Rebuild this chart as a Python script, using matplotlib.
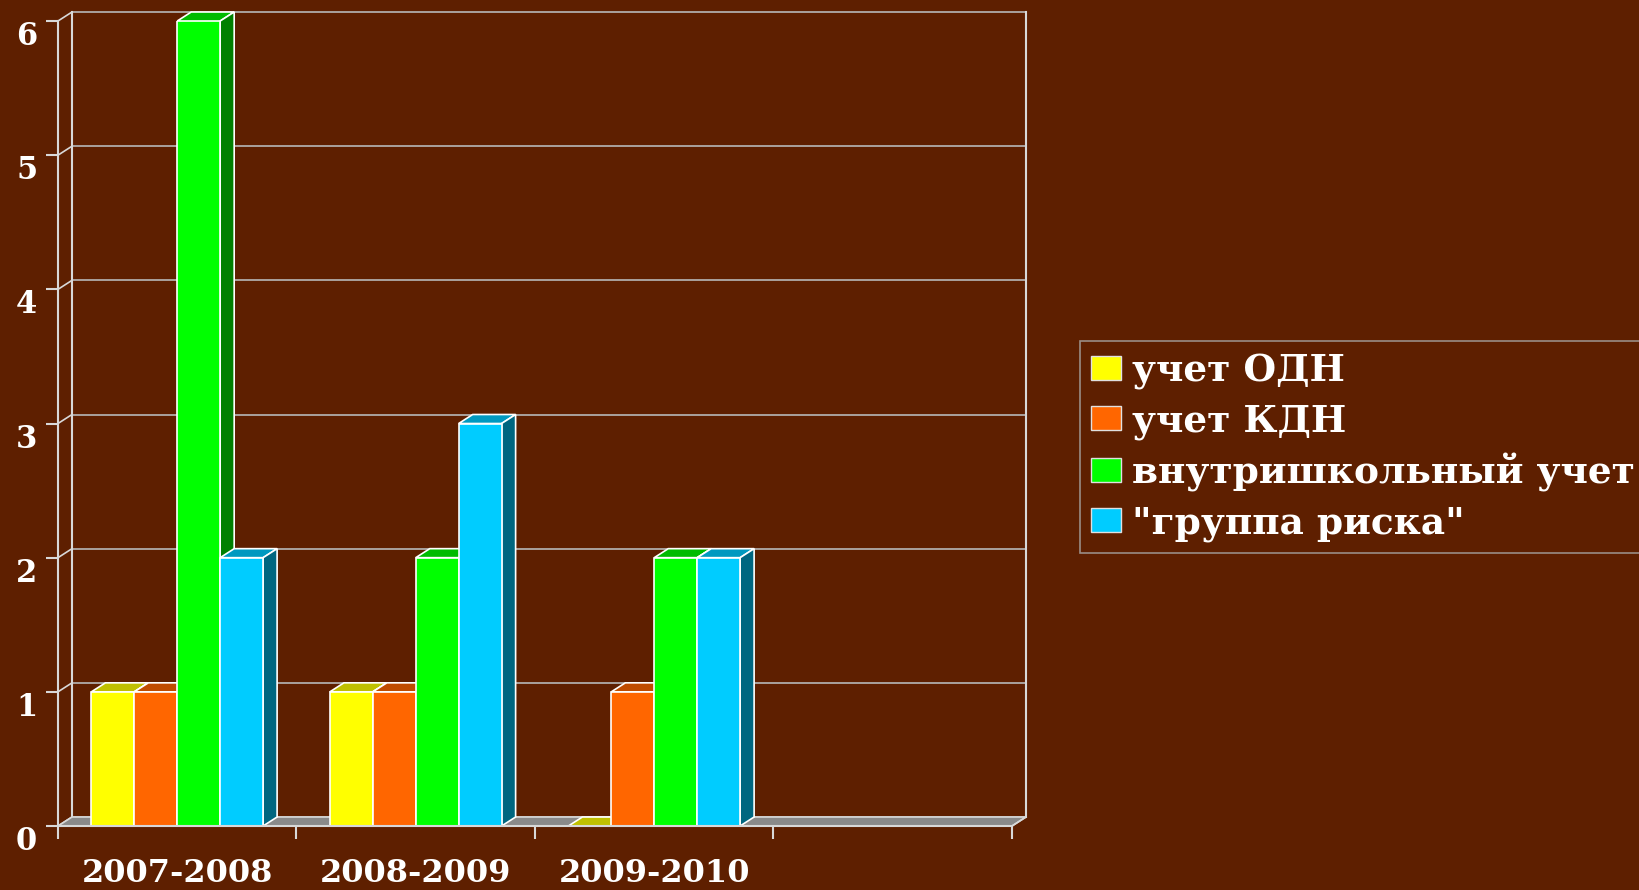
import numpy as np
import matplotlib
matplotlib.use('Agg')
import matplotlib.pyplot as plt
from matplotlib.patches import Polygon, Patch

# data
years = ['2007-2008', '2008-2009', '2009-2010', '']
names = ['учет ОДН', 'учет КДН', 'внутришкольный учет', '"группа риска"']
odn = [1, 1, 0]
kdn = [1, 1, 1]
school = [6, 2, 2]
risk = [2, 3, 2]
series = [odn, kdn, school, risk]
yticks = [0, 1, 2, 3, 4, 5, 6]

front_colors = ['#ffff00', '#ff6600', '#00ff00', '#00ccff']
top_colors = ['#c0c000', '#c04c00', '#00bb00', '#0099c0']
side_colors = ['#808000', '#803300', '#008000', '#006680']
bg = '#5e1f00'
fnt = 'DejaVu Serif'

fig = plt.figure(figsize=(16.4, 8.9), dpi=100, facecolor=bg)
W, H = 1640, 890
ax = fig.add_axes([58 / W, (H - 826) / H, 954 / W, 805 / H])
ax.set_facecolor('none')
ax.set_xlim(0, 4)
ax.set_ylim(0, 6)

# depth of the fake 3d, pixels -> data
p0 = ax.transData.transform((0, 0))
p1 = ax.transData.transform((1, 1))
dx = 14 / (p1[0] - p0[0])
dy = 9 / (p1[1] - p0[1])

linec = '#d8d8d8'
gridc = '#b8b8b8'
n_cat = len(years)

# floor
ax.add_patch(Polygon([(0, 0), (n_cat, 0), (n_cat + dx, dy), (dx, dy)], closed=True,
                     facecolor='#8a8a8a', edgecolor=linec, lw=1.2, zorder=1, clip_on=False))
# back wall grid and left wall connectors
for v in yticks:
    ax.plot([dx, n_cat + dx], [v + dy, v + dy], color=gridc, lw=1.2, zorder=0.5, clip_on=False)
    ax.plot([0, dx], [v, v + dy], color=linec, lw=1.2, zorder=0.5, clip_on=False)
ax.plot([dx, dx], [dy, 6 + dy], color=linec, lw=1.5, zorder=0.6, clip_on=False)
ax.plot([n_cat + dx, n_cat + dx], [dy, 6 + dy], color=linec, lw=1.5, zorder=0.6, clip_on=False)
ax.plot([n_cat, n_cat + dx], [0, dy], color=linec, lw=1.2, zorder=1.1, clip_on=False)

# bars
bw = 0.18
x = np.arange(len(odn))
start = x + (1 - 4 * bw) / 2
for j, vals in enumerate(series):
    left = start + j * bw
    ax.bar(left, vals, width=bw, align='edge', color=front_colors[j], edgecolor='white',
           lw=1.2, zorder=3 + 2 * j)
    for l, h in zip(left, vals):
        top = [(l, h), (l + bw, h), (l + bw + dx, h + dy), (l + dx, h + dy)]
        ax.add_patch(Polygon(top, closed=True, facecolor=top_colors[j], edgecolor='white',
                             lw=1.2, zorder=2 + 2 * j, clip_on=False))
        if h > 0:
            side = [(l + bw, 0), (l + bw + dx, dy), (l + bw + dx, h + dy), (l + bw, h)]
            ax.add_patch(Polygon(side, closed=True, facecolor=side_colors[j], edgecolor='white',
                                 lw=1.2, zorder=2 + 2 * j, clip_on=False))

# axes
for s in ['top', 'right']:
    ax.spines[s].set_visible(False)
for s in ['left', 'bottom']:
    ax.spines[s].set_color(linec)
    ax.spines[s].set_linewidth(1.5)
    ax.spines[s].set_zorder(20)

ax.set_yticks(yticks)
ax.set_yticklabels([str(v) for v in yticks], fontsize=22, fontweight='bold',
                   family=fnt, color='white')
for t in ax.get_yticklabels():
    t.set_va('top')
ax.tick_params(axis='y', length=9, width=1.5, color=linec, pad=6)

ax.set_xticks(np.arange(n_cat + 1))
ax.set_xticklabels([])
ax.set_xticks(np.arange(n_cat) + 0.5, minor=True)
ax.set_xticklabels(years, minor=True, fontsize=23, fontweight='bold', family=fnt, color='white')
ax.tick_params(axis='x', which='major', length=9, width=1.5, color=linec, direction='out')
ax.tick_params(axis='x', which='minor', length=0, pad=23)

# legend
handles = [Patch(facecolor=c, edgecolor='#e0e0e0', lw=1) for c in front_colors]
leg = fig.legend(handles, names, loc='upper left', bbox_to_anchor=(1080 / W, 1 - 341 / H),
                 prop={'family': fnt, 'weight': 'bold', 'size': 27}, frameon=True,
                 fancybox=False, borderaxespad=0, borderpad=0.3, handlelength=0.8,
                 handleheight=0.6, handletextpad=0.3, labelspacing=0.34)
leg.get_frame().set_facecolor(bg)
leg.get_frame().set_edgecolor('#a8a8a8')
leg.get_frame().set_linewidth(1.2)
for t in leg.get_texts():
    t.set_color('white')

fig.savefig('out.png', dpi=100, facecolor=bg)
